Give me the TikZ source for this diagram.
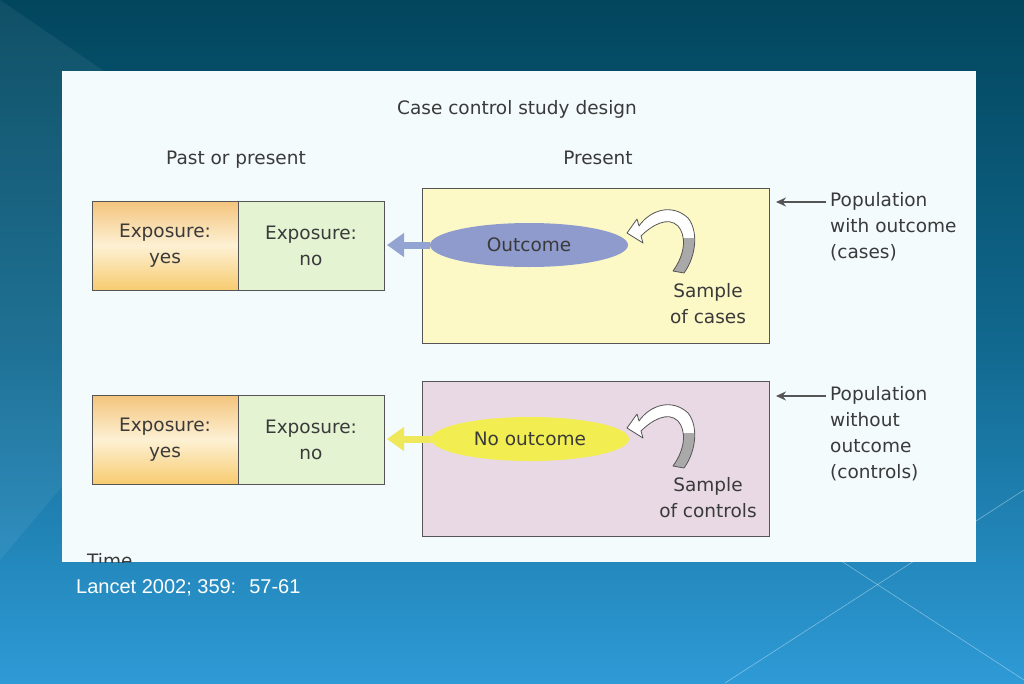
\documentclass[tikz,border=0pt]{standalone}
\usepackage{fontspec}
\setmainfont{DejaVu Sans}
\newfontfamily\slidefont{Liberation Sans}
\usetikzlibrary{positioning,shapes.geometric,arrows.meta}

\definecolor{slidetop}{HTML}{02465D}
\definecolor{slidemid}{HTML}{11688E}
\definecolor{slidebot}{HTML}{2E9AD6}
\definecolor{panelbg}{HTML}{F3FBFC}
\definecolor{ink}{HTML}{3A3A3A}
\definecolor{edge}{HTML}{555555}
\definecolor{orangetop}{HTML}{F3C47C}
\definecolor{orangemid}{HTML}{FDF1D4}
\definecolor{orangebot}{HTML}{F7CB70}
\definecolor{nogreen}{HTML}{E4F4D3}
\definecolor{casesyellow}{HTML}{FCF9C7}
\definecolor{controlspink}{HTML}{E8D9E5}
\definecolor{outcomeblue}{HTML}{8E9BCC}
\definecolor{arrowblue}{HTML}{93A4D2}
\definecolor{nooutcomeyellow}{HTML}{F2EE52}
\definecolor{arrowyellow}{HTML}{EEE85A}
\definecolor{curlgray}{HTML}{A9A9A9}

% the twisted "sample" arrow, upper row
\newcommand\curlpath{(639,226) .. controls (650,210) and (672,203) .. (688,218)
  .. controls (698,230) and (697,255) .. (684,273) -- (673,271)
  .. controls (686,253) and (686,235) .. (678,226)
  .. controls (668,216) and (652,225) .. (641,236)
  -- (643,243) -- (627,233) -- (637,219) -- cycle}

\begin{document}
\begin{tikzpicture}[x=1pt,y=-1pt,
    txt/.style={font=\fontsize{18.5}{26}\selectfont, text=ink},
    expbox/.style={txt, draw=edge, line width=0.9pt, minimum width=146pt,
      minimum height=89pt, align=center, inner sep=0pt, outer sep=0pt},
    popbox/.style={draw=edge, line width=0.9pt, minimum width=347pt,
      minimum height=155pt, inner sep=0pt},
    outcomeell/.style={txt, ellipse, minimum width=198pt, minimum height=44pt, inner sep=0pt},
    lbl/.style={txt, align=left, inner sep=0pt, anchor=north west},
    fat/.style={line width=7pt, -{Triangle[length=17pt,width=23pt]}, shorten >=3pt},
    popin/.style={draw=edge, line width=1.6pt, -{Stealth[length=10pt,width=9pt]}},
    curl/.pic={
      \fill[white] \curlpath;
      \begin{scope}
        \clip (660,238) rectangle (705,285);
        \fill[curlgray] \curlpath;
      \end{scope}
      \draw[edge, line width=0.8pt, line join=round] \curlpath;
    }]
    \useasboundingbox (0,0) rectangle (1024,683);

    % slide background
    \shade[top color=slidetop, bottom color=slidebot, middle color=slidemid] (0,0) rectangle (1024,683);
    \fill[white, opacity=0.06] (0,0) -- (300,205) -- (0,560) -- cycle;
    \draw[white, opacity=0.4, line width=0.6pt] (1024,490) -- (725,683);
    \draw[white, opacity=0.4, line width=0.6pt] (700,469) -- (1024,680);

    % scanned figure
    \fill[panelbg] (62,71) rectangle (976,562);
    \node[txt, anchor=base] (title) at (517,114) {Case control study design};
    \node[txt, anchor=base] (past) at (236,164) {Past or present};
    \node[txt, anchor=base] (present) at (598,164) {Present};

    \node[expbox, top color=orangetop, bottom color=orangebot, middle color=orangemid] (yes_1) at (165,245.5) {Exposure:\\yes};
    \node[expbox, fill=nogreen] (no_1) [right=0pt of yes_1] {Exposure:\\no};
    \node[expbox, top color=orangetop, bottom color=orangebot, middle color=orangemid] (yes_2) at (165,439.5) {Exposure:\\yes};
    \node[expbox, fill=nogreen] (no_2) [right=0pt of yes_2] {Exposure:\\no};

    \node[popbox, fill=casesyellow] (cases) at (595.5,265.5) {};
    \node[popbox, fill=controlspink] (controls) at (595.5,459) {};

    \node[outcomeell, fill=outcomeblue] (outcome) at (529,245) {Outcome};
    \node[outcomeell, fill=nooutcomeyellow] (nooutcome) at (530,439) {No outcome};
    \draw[fat, arrowblue] (outcome.west) -- (outcome.west -| no_1.east);
    \draw[fat, arrowyellow] (nooutcome.west) -- (nooutcome.west -| no_2.east);

    \pic at (0,0) {curl};
    \pic at (0,195) {curl};
    \node[txt, align=center] (sample_1) at (708,304) {Sample\\of cases};
    \node[txt, align=center] (sample_2) at (708,498) {Sample\\of controls};

    \node[lbl] (caseslbl) at (830,192) {Population\\with outcome\\(cases)};
    \node[lbl] (controlslbl) at (830,386) {Population\\without\\outcome\\(controls)};
    \coordinate (cases_from) at (826,202);
    \coordinate (cases_in) at (776,202);
    \coordinate (controls_from) at (826,396);
    \coordinate (controls_in) at (776,396);
    \draw[popin] (cases_from) -- (cases_in);
    \draw[popin] (controls_from) -- (controls_in);

    \begin{scope}
        \clip (62,71) rectangle (976,562);
        \node[txt, anchor=base west, inner sep=0pt] (time) at (87,567) {Time};
    \end{scope}

    \node[font=\slidefont\fontsize{20}{24}\selectfont, text=white, anchor=base west, inner sep=0pt] (ref) at (76,593) {Lancet 2002; 359: \ 57-61};
\end{tikzpicture}
\end{document}
